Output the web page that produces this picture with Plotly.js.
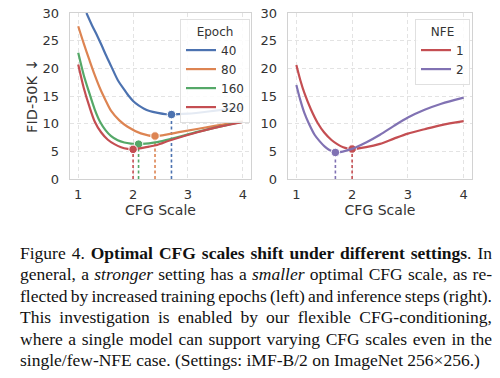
<!DOCTYPE html>
<html>
<head>
<meta charset="utf-8">
<script src="https://cdn.plot.ly/plotly-3.0.1.min.js"></script>
<style>
html,body{margin:0;padding:0;background:#fff;}
#chart{width:500px;height:378px;}
</style>
</head>
<body>
<div id="chart"></div>
<script>
// ---- data ----
const ep40_x  = [1.15, 1.25, 1.35, 1.42, 1.5, 1.6, 1.72, 1.85, 1.93, 2.0, 2.1, 2.2, 2.3, 2.45, 2.6, 2.7, 3.0, 3.5, 4.0];
const ep40_y  = [30.0, 27.8, 25.8, 24.3, 22.5, 20.4, 17.9, 16.0, 14.9, 14.1, 13.3, 12.7, 12.3, 11.95, 11.7, 11.65, 11.8, 12.35, 12.95];
const ep80_x  = [1.0, 1.1, 1.2, 1.3, 1.4, 1.5, 1.6, 1.75, 1.9, 2.14, 2.4, 2.89, 3.49, 4.0];
const ep80_y  = [27.6, 24.5, 21.6, 18.8, 16.3, 14.2, 12.3, 10.6, 9.45, 8.25, 7.77, 8.55, 9.6, 10.4];
const ep160_x = [1.0, 1.1, 1.2, 1.3, 1.4, 1.5, 1.6, 1.72, 1.84, 1.96, 2.1, 2.29, 2.44, 2.68, 3.19, 3.6, 4.0];
const ep160_y = [22.8, 18.8, 15.6, 12.6, 10.3, 8.8, 7.75, 7.0, 6.6, 6.4, 6.3, 6.45, 6.65, 7.2, 8.55, 9.5, 10.35];
const ep320_x = [1.0, 1.1, 1.2, 1.3, 1.42, 1.54, 1.66, 1.78, 1.9, 2.0, 2.29, 2.44, 2.68, 3.19, 3.6, 4.0];
const ep320_y = [20.7, 16.5, 13.2, 10.4, 8.4, 7.1, 6.3, 5.75, 5.45, 5.36, 5.85, 6.15, 7.0, 8.5, 9.5, 10.3];

const nfe1_x = [1.0, 1.07, 1.145, 1.26, 1.385, 1.5, 1.63, 1.74, 1.84, 1.92, 2.0, 2.25, 2.5, 2.75, 3.0, 3.3, 3.6, 4.0];
const nfe1_y = [20.6, 17.9, 15.5, 12.6, 10.07, 8.4, 7.05, 6.25, 5.73, 5.52, 5.42, 5.75, 6.35, 7.3, 8.2, 9.0, 9.75, 10.45];
const nfe2_x = [1.0, 1.07, 1.145, 1.23, 1.33, 1.42, 1.51, 1.6, 1.7, 2.0, 2.25, 2.5, 2.75, 3.0, 3.3, 3.6, 4.0];
const nfe2_y = [17.0, 14.3, 11.9, 9.9, 7.95, 6.8, 5.85, 5.2, 4.8, 5.45, 6.6, 8.0, 9.6, 11.1, 12.5, 13.6, 14.7];

const epochLabels = ['40', '80', '160', '320'];
const epochOptX = [2.7, 2.4, 2.1, 2.0];
const epochOptY = [11.65, 7.77, 6.3, 5.36];
const nfeLabels = ['1', '2'];
const nfeOptX = [2.0, 1.7];
const nfeOptY = [5.42, 4.8];

const xTicks = [1, 2, 3, 4];
const yTicks = [0, 5, 10, 15, 20, 25, 30];

const captionLines = [
  'Figure 4. <b>Optimal CFG scales shift under different settings</b>. In',
  'general, a <i>stronger</i> setting has a <i>smaller</i> optimal CFG scale, as re-',
  'flected by increased training epochs (left) and inference steps (right).',
  'This investigation is enabled by our flexible CFG-conditioning,',
  'where a single model can support varying CFG scales even in the',
  'single/few-NFE case. (Settings: iMF-B/2 on ImageNet 256×256.)'
];

// ---- styling ----
const epochColors = ['#4C72B0', '#DD8452', '#55A868', '#C44E52'];
const nfeColors = ['#C44E52', '#8172B3'];
const epochX = [ep40_x, ep80_x, ep160_x, ep320_x];
const epochY = [ep40_y, ep80_y, ep160_y, ep320_y];
const nfeX = [nfe1_x, nfe2_x];
const nfeY = [nfe1_y, nfe2_y];

const traces = [];
function addSeries(xs, ys, name, color, optx, opty, xa, ya, legend) {
  traces.push({x: xs, y: ys, name: name, type: 'scatter', mode: 'lines',
    line: {color: color, width: 2.2, shape: 'spline', smoothing: 0.8},
    xaxis: xa, yaxis: ya, legend: legend, showlegend: true});
  traces.push({x: [optx, optx], y: [0, opty], type: 'scatter', mode: 'lines',
    line: {color: color, width: 1.6, dash: '3px,2.5px'}, xaxis: xa, yaxis: ya, showlegend: false, hoverinfo: 'skip'});
  traces.push({x: [optx], y: [opty], type: 'scatter', mode: 'markers',
    marker: {color: color, size: 8.5, line: {color: '#ffffff', width: 1}}, xaxis: xa, yaxis: ya, showlegend: false});
}
for (let i = 0; i < 4; i++) addSeries(epochX[i], epochY[i], epochLabels[i], epochColors[i], epochOptX[i], epochOptY[i], 'x', 'y', 'legend');
for (let i = 0; i < 2; i++) addSeries(nfeX[i], nfeY[i], nfeLabels[i], nfeColors[i], nfeOptX[i], nfeOptY[i], 'x2', 'y2', 'legend2');

const tickFont = {family: 'DejaVu Sans', size: 13, color: '#333333'};
const titleFont = {family: 'DejaVu Sans', size: 14, color: '#333333'};
function xax(domain) {
  return {domain: domain, range: [0.85, 4.15], tickvals: xTicks, ticktext: xTicks.map(String),
    showgrid: true, gridcolor: '#e3e3e3', griddash: '4px,3px', gridwidth: 1,
    showline: true, linecolor: '#d2d2d2', linewidth: 1.3, mirror: true, zeroline: false,
    ticks: '', tickfont: tickFont, ticklabelstandoff: 3,
    title: {text: 'CFG Scale', font: titleFont, standoff: 3}};
}
function yax(anchor, withTitle) {
  const a = {anchor: anchor, domain: [0, 1], range: [0, 30], tickvals: yTicks, ticktext: yTicks.map(String),
    showgrid: true, gridcolor: '#e3e3e3', griddash: '4px,3px', gridwidth: 1,
    showline: true, linecolor: '#d2d2d2', linewidth: 1.3, mirror: true, zeroline: false,
    ticks: '', tickfont: tickFont, ticklabelstandoff: 7};
  if (withTitle) a.title = {text: 'FID-50K ↓', font: {family: 'DejaVu Sans', size: 14.5, color: '#333333'}, standoff: 1};
  return a;
}
const L = 70, R = 28, T = 13, B = 199, W = 500, H = 378;
const pw = W - L - R, ph = H - T - B;
const px2paper = p => (p - L) / pw;
const py2paper = p => (H - B - p) / ph;

const annotations = captionLines.map((t, i) => ({
  text: t, xref: 'paper', yref: 'paper', x: px2paper(18), y: py2paper(252.5 + i * 21.5),
  xanchor: 'left', yanchor: 'middle', showarrow: false, align: 'left',
  font: {family: 'Liberation Serif', size: 17.5, color: '#111111'}
}));

const legendBase = {bgcolor: 'rgba(255,255,255,0.85)', bordercolor: '#e0e0e0', borderwidth: 1,
  font: {family: 'DejaVu Sans', size: 12, color: '#333333'}, yanchor: 'top', xanchor: 'right',
  tracegroupgap: 0, itemwidth: 30};

const layout = {
  width: W, height: H, margin: {l: L, r: R, t: T, b: B},
  paper_bgcolor: '#ffffff', plot_bgcolor: '#ffffff', showlegend: true,
  xaxis: Object.assign(xax([0, px2paper(251)]), {anchor: 'y'}),
  xaxis2: Object.assign(xax([px2paper(288), 1]), {anchor: 'y2'}),
  yaxis: yax('x', true),
  yaxis2: yax('x2', false),
  legend: Object.assign({}, legendBase, {x: px2paper(250), y: py2paper(19),
    title: {text: 'Epoch', side: 'top center', font: {family: 'DejaVu Sans', size: 12, color: '#333333'}}}),
  legend2: Object.assign({}, legendBase, {x: px2paper(470), y: py2paper(19),
    title: {text: 'NFE', side: 'top center', font: {family: 'DejaVu Sans', size: 12, color: '#333333'}}}),
  annotations: annotations
};

Plotly.newPlot('chart', traces, layout, {displayModeBar: false, staticPlot: true}).then(() => {
  // justify caption lines (all but the last) to the column width
  const texts = document.querySelectorAll('.annotation-text');
  const target = 472;
  texts.forEach((el, i) => {
    if (i >= captionLines.length - 1) return;
    const w = el.getComputedTextLength ? el.getComputedTextLength() : el.getBBox().width;
    const spaces = (el.textContent.match(/ /g) || []).length;
    if (spaces > 0) el.style.wordSpacing = ((target - w) / spaces) + 'px';
  });
});
</script>
</body>
</html>
